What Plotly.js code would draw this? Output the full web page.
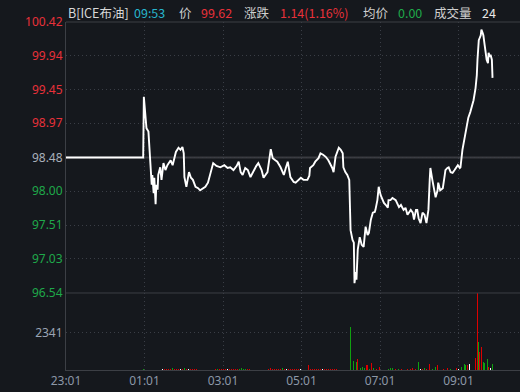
<!DOCTYPE html>
<html>
<head>
<meta charset="utf-8">
<script src="https://cdn.plot.ly/plotly-3.0.1.min.js"></script>
<style>
html,body{margin:0;padding:0;background:#15181d;}
#chart{width:520px;height:392px;}
</style>
</head>
<body>
<div id="chart"></div>
<script>
// ---- Data (minutes since 23:01 session start) ----
const prevClose = 98.48;
const priceTicks = [100.42, 99.94, 99.45, 98.97, 98.48, 98.00, 97.51, 97.03, 96.54];
const volTicks = [2341];
const xTickMinutes = [0, 120, 240, 360, 480, 600];
const xTickLabels = ['23:01', '01:01', '03:01', '05:01', '07:01', '09:01'];

const priceMinute = [0,118,119,121,123,126,129,131,132,134,135,137,138,140,141,144,146,149,152,155,
  160,163,168,172,175,178,180,181,184,188,191,194,198,202,205,208,213,217,221,224,
  225,230,236,242,247,251,256,261,264,267,270,274,278,282,287,291,294,299,302,308,
  313,316,320,323,328,333,336,339,343,348,351,356,359,363,369,372,373,378,381,386,
  389,393,397,401,404,407,409,412,417,420,423,424,427,430,433,435,438,440,441,443,
  444,446,449,452,455,458,461,463,466,469,472,473,476,478,481,484,486,489,492,493,
  496,499,504,509,512,516,519,522,527,530,532,535,537,539,542,545,548,551,554,556,
  557,560,563,565,568,569,572,576,579,580,583,585,588,591,594,599,602,603,606,611,
  614,615,618,621,623,626,628,629,631,634,635,637,638,640,641,643,645,646,648,649,
  651,652];
const priceValue = [98.48,98.48,99.35,99.16,98.90,98.85,98.30,98.09,98.23,97.97,98.19,97.81,98.09,98.02,98.23,98.34,98.16,98.40,98.30,98.37,
  98.44,98.37,98.56,98.62,98.59,98.63,98.54,98.20,98.06,98.27,98.19,98.16,98.06,98.04,98.01,98.03,98.06,98.12,98.26,98.34,
  98.40,98.36,98.34,98.37,98.33,98.34,98.30,98.36,98.42,98.27,98.23,98.33,98.30,98.20,98.30,98.36,98.40,98.30,98.19,98.27,
  98.60,98.47,98.44,98.42,98.34,98.23,98.33,98.42,98.20,98.13,98.12,98.17,98.19,98.16,98.16,98.22,98.33,98.37,98.42,98.47,
  98.54,98.52,98.49,98.44,98.39,98.33,98.27,98.49,98.62,98.59,98.54,98.34,98.27,98.23,98.16,97.44,97.30,97.26,96.68,96.84,
  96.73,97.16,97.34,97.23,97.20,97.49,97.37,97.40,97.59,97.69,97.70,97.73,97.87,98.06,97.94,97.87,97.83,97.80,97.76,97.87,
  97.87,97.90,97.87,97.77,97.80,97.73,97.76,97.66,97.73,97.69,97.59,97.73,97.73,97.61,97.54,97.69,97.66,97.54,97.73,98.16,
  98.33,98.16,98.01,97.91,98.01,98.12,98.01,98.04,98.23,98.30,98.33,98.34,98.27,98.26,98.30,98.37,98.33,98.34,98.59,98.83,
  98.99,99.05,99.13,99.23,99.30,99.47,99.66,99.88,100.16,100.23,100.31,100.26,100.23,100.09,99.98,99.88,99.83,99.98,99.92,99.95,
  99.88,99.62];

// volume per minute bar; direction: 1 = up (red), -1 = down (green), 0 = flat (white)
const volMinute = [118,121,124,127,130,133,136,139,142,145,148,151,154,157,160,163,166,169,172,175,
  178,181,184,187,190,193,196,199,202,205,208,211,214,217,220,223,226,229,232,235,
  238,241,244,247,250,253,256,259,262,265,268,271,274,277,280,283,286,289,292,295,
  298,301,304,307,310,313,316,319,322,325,328,331,334,337,340,343,346,349,352,355,
  358,361,364,367,371,374,377,380,383,386,389,392,395,398,401,404,407,410,413,416,
  419,422,425,428,431,
  435,437,439,440,442,444,445,446,450,453,456,459,461,464,467,470,475,479,483,489,
  493,496,499,504,508,513,518,522,527,530,534,539,542,545,548,551,556,560,565,568,
  573,577,583,588,593,597,600,605,607,609,611,614,616,617,619,622,625,626,628,629,
  631,632,635,636,638,640,642,644,646,649,652];
const volValue = [90,110,100,120,90,110,80,70,60,70,80,70,90,60,80,110,70,60,70,80,
  90,100,70,80,60,70,90,80,100,70,60,80,70,100,60,70,60,80,90,60,
  70,60,70,80,60,70,60,70,60,90,100,80,90,70,60,70,60,80,60,70,
  60,70,60,70,80,130,70,60,70,60,70,110,60,80,60,70,60,70,60,70,
  80,60,70,60,290,70,60,70,60,70,60,80,70,60,70,60,70,60,70,80,
  70,90,70,60,70,
  2690,620,580,450,870,520,80,690,120,200,150,280,340,90,420,120,70,160,110,70,
  80,100,100,70,80,70,70,60,70,100,60,490,60,70,150,70,350,90,200,300,
  150,80,100,80,100,120,60,200,250,380,300,310,1350,400,410,520,450,725,830,4765,
  1760,1140,1450,1240,520,410,520,660,165,100,370];
const volDir = [-1,-1,-1,-1,-1,-1,1,1,1,1,0,1,1,1,1,-1,1,1,1,0,
  1,-1,1,0,1,1,1,1,-1,1,1,1,0,-1,1,1,1,1,-1,1,
  1,1,1,0,1,1,1,1,1,-1,-1,-1,-1,1,1,1,1,0,1,1,
  1,1,1,1,1,1,1,1,1,1,1,-1,1,0,1,1,1,1,1,1,
  0,1,1,1,1,1,1,1,1,1,1,0,1,1,1,1,1,1,1,0,
  1,-1,1,1,1,
  -1,-1,-1,-1,-1,-1,0,1,-1,-1,-1,1,1,-1,1,-1,1,1,-1,1,
  -1,-1,-1,1,-1,1,-1,1,1,1,1,-1,0,1,-1,1,1,-1,-1,1,
  -1,1,1,-1,-1,1,0,-1,-1,-1,-1,1,1,0,1,-1,0,1,1,1,
  -1,1,1,1,-1,-1,-1,-1,1,0,-1];

const headerTexts = ['B[ICE布油]', '09:53', '价', '99.62', '涨跌', '1.14(1.16%)', '均价', '0.00', '成交量', '24'];

// ---- Styling ----
const RED = '#e8313a', GREEN = '#1fa84a', NEUTRAL = '#a9b0bb';
const BAR_RED = '#dd0000', BAR_GREEN = '#10a010', BAR_FLAT = '#ffffff';
const GRID = '#3a3e46', LINE = '#3c3f45';
const FONT = 'Noto Sans, DejaVu Sans, sans-serif';
const CJK = 'Noto Sans CJK SC, Noto Sans, sans-serif';

const priceTickText = priceTicks.map(v => {
  const c = v > prevClose ? RED : (v < prevClose ? GREEN : NEUTRAL);
  return '<span style="color:' + c + '">' + v.toFixed(2) + '</span>';
});
const barColors = volDir.map(d => d > 0 ? BAR_RED : (d < 0 ? BAR_GREEN : BAR_FLAT));

const traces = [
  {x: priceMinute, y: priceValue, type: 'scatter', mode: 'lines',
   line: {color: '#ffffff', width: 1.9}, xaxis: 'x', yaxis: 'y', hoverinfo: 'skip'},
  {x: volMinute, y: volValue, type: 'bar', width: 1,
   marker: {color: barColors, line: {width: 0}}, xaxis: 'x', yaxis: 'y2', hoverinfo: 'skip'}
];

const volFrac = 0.2213;
const headerColors = ['#d8d8d8', '#27b5cc', '#cfcfcf', RED, '#cfcfcf', RED, '#cfcfcf', GREEN, '#cfcfcf', '#e8e8e8'];
const headerLeft = [67, 133, 178, 200, 243, 279, 362, 397, 433, 481];

const annotations = headerTexts.map((t, i) => ({
  text: t, xref: 'paper', yref: 'paper', x: 0, y: 1, xanchor: 'left', yanchor: 'middle',
  xshift: headerLeft[i] - 66, yshift: 10, showarrow: false, borderpad: 0,
  font: {family: CJK, size: 12.5, color: headerColors[i]}
}));

const layout = {
  width: 520, height: 392,
  margin: {l: 66, r: 0, t: 22, b: 22, pad: 0},
  paper_bgcolor: '#15181d', plot_bgcolor: '#15181d',
  showlegend: false, bargap: 0,
  xaxis: {
    domain: [0, 1], range: [0, 694], anchor: 'y2',
    tickmode: 'array', tickvals: xTickMinutes, ticktext: xTickLabels,
    showgrid: true, gridcolor: GRID, griddash: '1px,3px', gridwidth: 1,
    showline: true, linecolor: LINE, linewidth: 1, zeroline: false, ticks: '',
    tickfont: {family: FONT, size: 12, color: '#8c97a7'}, fixedrange: true
  },
  yaxis: {
    domain: [volFrac, 1], range: [priceTicks[priceTicks.length - 1], priceTicks[0]], anchor: 'x',
    tickmode: 'array', tickvals: priceTicks, ticktext: priceTickText,
    showgrid: true, gridcolor: GRID, griddash: '1px,3px', gridwidth: 1,
    showline: true, linecolor: LINE, linewidth: 1, zeroline: false, ticks: '',
    tickfont: {family: FONT, size: 12}, fixedrange: true
  },
  yaxis2: {
    domain: [0, volFrac], range: [0, 4790], anchor: 'x',
    tickmode: 'array', tickvals: volTicks, ticktext: volTicks.map(String),
    showgrid: true, gridcolor: GRID, griddash: '1px,3px', gridwidth: 1,
    showline: true, linecolor: LINE, linewidth: 1, zeroline: false, ticks: '',
    tickfont: {family: FONT, size: 12, color: '#9aa4b4'}, fixedrange: true
  },
  shapes: [
    {type: 'line', xref: 'paper', yref: 'paper', x0: 0, x1: 1, y0: 1, y1: 1, line: {color: LINE, width: 1}},
    {type: 'line', xref: 'paper', yref: 'paper', x0: 0, x1: 1, y0: volFrac, y1: volFrac, line: {color: LINE, width: 1}},
    {type: 'line', xref: 'paper', yref: 'y', x0: 0, x1: 1, y0: prevClose, y1: prevClose, layer: 'below', line: {color: '#3a3b40', width: 2}}
  ],
  annotations: annotations
};

Plotly.newPlot('chart', traces, layout, {staticPlot: true, displayModeBar: false});
</script>
</body>
</html>
